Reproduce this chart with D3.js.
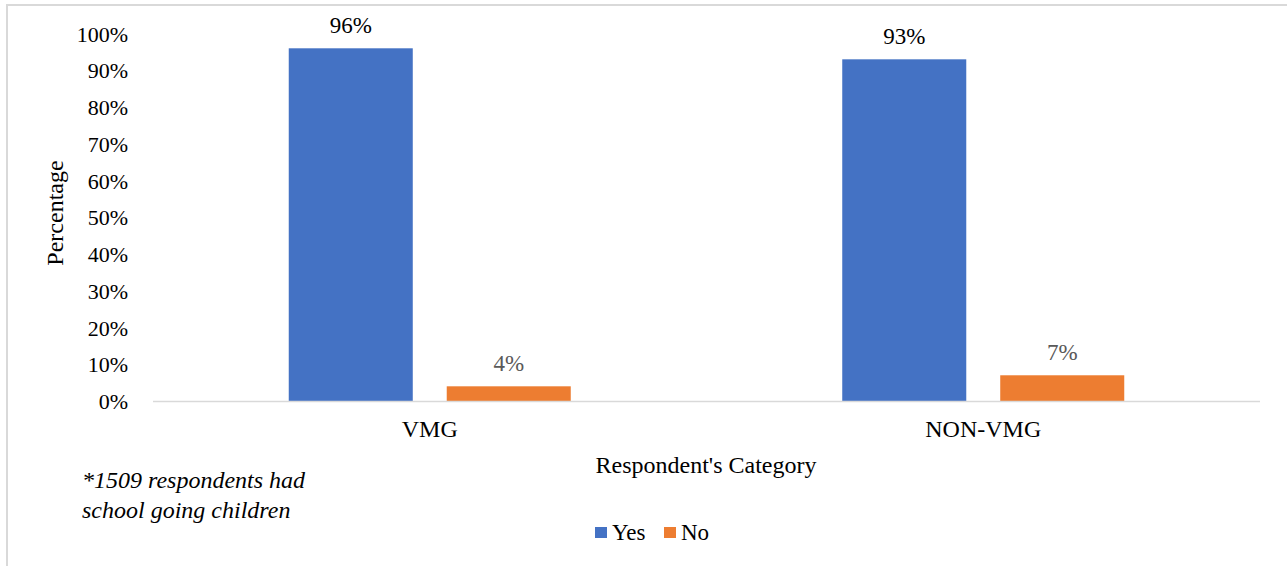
<!DOCTYPE html>
<html>
<head>
<meta charset="utf-8">
<script src="https://cdn.jsdelivr.net/npm/d3@7"></script>
<style>
  html, body { margin: 0; padding: 0; background: #fff; }
  svg text { font-family: "Liberation Serif", "Times New Roman", Times, Tinos, "DejaVu Serif", serif !important; }
</style>
</head>
<body>
<svg id="chart" width="1287" height="566"></svg>
<script>
// Share of respondents, by respondent category
const categories = ["VMG", "NON-VMG"];
const seriesNames = ["Yes", "No"];
const yesValues = [96, 93];
const noValues = [4, 7];
const yTicks = [0, 10, 20, 30, 40, 50, 60, 70, 80, 90, 100];

const seriesValues = { Yes: yesValues, No: noValues };
const colors = { Yes: "#4472C4", No: "#ED7D31" };
const labelColors = { Yes: "#000000", No: "#595959" };

const svg = d3.select("#chart");
const W = 1287, H = 566;

// Chart frame
svg.append("rect")
  .attr("x", 7).attr("y", 5)
  .attr("width", W + 10).attr("height", H + 10)
  .attr("fill", "#fff").attr("stroke", "#d9d9d9").attr("stroke-width", 2);

const plot = { left: 153, right: 1260, top: 33.6, bottom: 401 };

const x0 = d3.scaleBand()
  .domain(categories)
  .range([plot.left, plot.right])
  .paddingInner(0.4905)
  .paddingOuter(0.4905 / 2);

const x1 = d3.scaleBand()
  .domain(seriesNames)
  .range([0, x0.bandwidth()])
  .paddingInner(0.215)
  .paddingOuter(0);

const y = d3.scaleLinear().domain([0, 100]).range([plot.bottom, plot.top]);

// Y axis labels (no axis line, no ticks)
const yAxis = d3.axisLeft(y)
  .tickValues(yTicks)
  .tickFormat(d => d + "%")
  .tickSize(0)
  .tickPadding(0);
const yG = svg.append("g")
  .attr("transform", `translate(${128},0)`)
  .call(yAxis);
yG.select(".domain").remove();
yG.selectAll("text")
  .attr("font-size", 22)
  .attr("fill", "#000")
  .attr("dy", "0.34em");

// Bars
const groups = svg.append("g").selectAll("g")
  .data(categories)
  .join("g")
  .attr("transform", d => `translate(${x0(d)},0)`);

groups.selectAll("rect")
  .data((c, i) => seriesNames.map(s => ({ s, v: seriesValues[s][i] })))
  .join("rect")
  .attr("x", d => x1(d.s))
  .attr("width", x1.bandwidth())
  .attr("y", d => y(d.v))
  .attr("height", d => y(0) - y(d.v))
  .attr("fill", d => colors[d.s]);

// Value labels
groups.selectAll("text.val")
  .data((c, i) => seriesNames.map(s => ({ s, v: seriesValues[s][i] })))
  .join("text")
  .attr("class", "val")
  .attr("x", d => x1(d.s) + x1.bandwidth() / 2)
  .attr("y", d => y(d.v) - 15)
  .attr("text-anchor", "middle")
  .attr("font-size", 23)
  .attr("fill", d => labelColors[d.s])
  .text(d => d.v + "%");

// X baseline
svg.append("line")
  .attr("x1", plot.left).attr("x2", plot.right)
  .attr("y1", y(0) + 0.5).attr("y2", y(0) + 0.5)
  .attr("stroke", "#d9d9d9").attr("stroke-width", 1.5);

// X axis category labels
const xAxis = d3.axisBottom(x0).tickSize(0).tickPadding(0);
const xG = svg.append("g")
  .attr("transform", `translate(0,${437})`)
  .call(xAxis);
xG.select(".domain").remove();
xG.selectAll("text")
  .attr("font-size", 24)
  .attr("fill", "#000")
  .attr("dy", 0);

// Axis titles
svg.append("text")
  .attr("x", 706).attr("y", 473)
  .attr("text-anchor", "middle")
  .attr("font-size", 24)
  .attr("fill", "#000")
  .text("Respondent's Category");

svg.append("text")
  .attr("transform", "translate(63,213) rotate(-90)")
  .attr("text-anchor", "middle")
  .attr("font-size", 24)
  .attr("fill", "#000")
  .text("Percentage");

// Footnote
const note = svg.append("text")
  .attr("font-size", 24)
  .attr("font-style", "italic")
  .attr("fill", "#000");
note.append("tspan").attr("x", 82).attr("y", 488).text("*1509 respondents had");
note.append("tspan").attr("x", 82).attr("y", 518).text("school going children");

// Legend
const legend = svg.append("g");
const legendItems = [
  { s: "Yes", x: 595 },
  { s: "No", x: 664 }
];
legendItems.forEach(it => {
  legend.append("rect")
    .attr("x", it.x).attr("y", 527)
    .attr("width", 12).attr("height", 11)
    .attr("fill", colors[it.s]);
  legend.append("text")
    .attr("x", it.x + 17).attr("y", 540)
    .attr("font-size", 23)
    .attr("fill", "#000")
    .text(it.s);
});
</script>
</body>
</html>
